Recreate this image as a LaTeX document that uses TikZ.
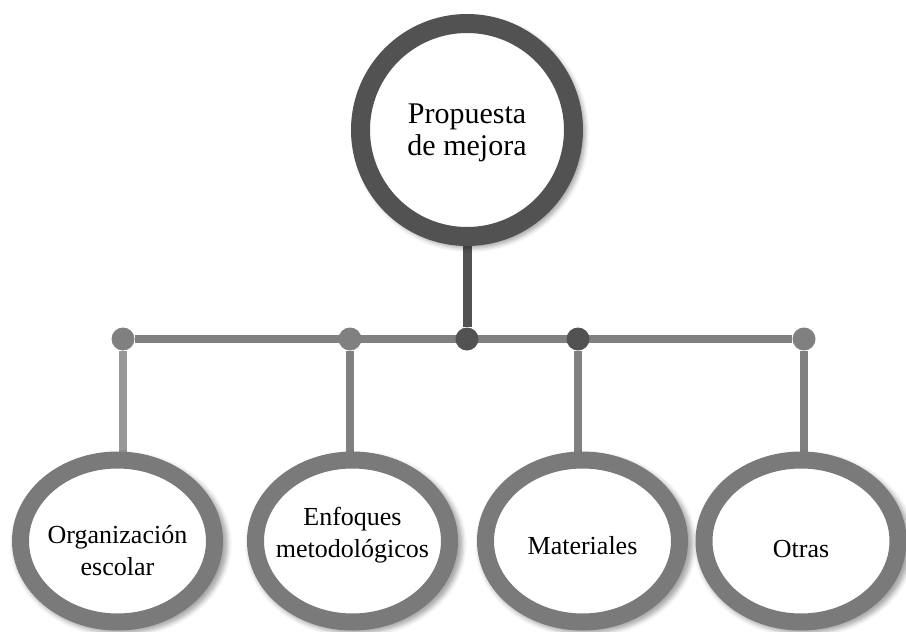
\documentclass[tikz,border=0pt]{standalone}
\usepackage{fontspec}
\setmainfont{Liberation Serif}
\newfontfamily\timesfont{Liberation Serif}
\usetikzlibrary{shapes.geometric}
\usetikzlibrary{backgrounds}
\usetikzlibrary{shadows.blur}
\definecolor{ringdark}{RGB}{82,82,82}
\definecolor{ringgray}{RGB}{122,122,122}
\definecolor{linegray}{RGB}{128,128,128}
\definecolor{linelight}{RGB}{152,152,152}

\begin{document}
\begin{tikzpicture}[x=1pt, y=-1pt,
    softshadow/.style={blur shadow={shadow xshift=3pt, shadow yshift=-3pt,
        shadow scale=#1, shadow opacity=35, shadow blur radius=4pt}},
    ring/.style={ellipse, draw=ringgray, line width=17pt, fill=white,
        minimum width=194pt, minimum height=162pt, inner sep=0pt, softshadow=1.1},
    dot/.style={circle, fill=#1, minimum size=23pt, inner sep=0pt},
    bar/.style={line width=8pt, draw=#1},
    lbl/.style={align=center, font=\timesfont\fontsize{26}{32}\selectfont}]
    \useasboundingbox (0,0) rectangle (906,632);
    \node[circle, draw=ringdark, line width=19pt, fill=white, minimum size=213pt,
        inner sep=0pt, softshadow=1.08, label={[name=l-top, align=center,
        font=\timesfont\fontsize{30}{32}\selectfont, yshift=-3pt]center:Propuesta\\de mejora}]
        (top) at (467,130) {};
    \foreach[count=\i] \xd/\cd in {123/linegray,350/linegray,467/ringdark,578/ringdark,804/linegray} {
        \node[dot=\cd] (d-\i) at (\xd,339) {};
    }
    \foreach[count=\i] \xe/\dy/\txt in {117.5/-10/{Organización\\escolar},
        352.5/6/{Enfoques\\metodológicos}, 582.5/-5/{Materiales}, 801/-8/{Otras}} {
        \node[ring, label={[name=l-\i, lbl, yshift=\dy pt]center:\txt}] (e-\i) at (\xe,541) {};
    }
    \begin{scope}[on background layer]
        \draw[bar=linegray] (d-1) -- (d-5);
        \draw[line width=9pt, ringdark] (top.south) -- (d-3);
        \draw[bar=linelight] (d-1) -- (d-1 |- e-1.north);
        \foreach \i in {2,4,5} {
            \pgfmathtruncatemacro{\k}{\i-1}
            \draw[bar=linegray] (d-\i) -- (d-\i |- e-\k.north);
        }
    \end{scope}
\end{tikzpicture}
\end{document}
